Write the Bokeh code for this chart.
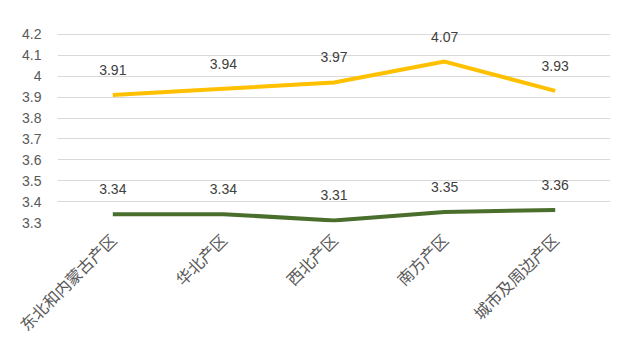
import math
from bokeh.plotting import figure
from bokeh.models import FactorRange, Range1d, FixedTicker, CustomJSTickFormatter, ColumnDataSource
from bokeh.core.properties import value
from bokeh.embed import file_html
from bokeh.resources import INLINE

categories = ["东北和内蒙古产区", "华北产区", "西北产区", "南方产区", "城市及周边产区"]
series_a = [3.91, 3.94, 3.97, 4.07, 3.93]
series_b = [3.34, 3.34, 3.31, 3.35, 3.36]
y_ticks = [3.3, 3.4, 3.5, 3.6, 3.7, 3.8, 3.9, 4.0, 4.1, 4.2]

p = figure(width=617, height=353, x_range=FactorRange(*categories, range_padding=0),
           y_range=Range1d(3.3, 4.3), output_backend="svg", toolbar_location=None,
           min_border_left=57, min_border_right=7, min_border_top=13, min_border_bottom=131)
p.outline_line_color = None
p.background_fill_color = "white"

src_a = ColumnDataSource(dict(x=categories, y=series_a, t=[f"{v:.2f}" for v in series_a]))
src_b = ColumnDataSource(dict(x=categories, y=series_b, t=[f"{v:.2f}" for v in series_b]))

p.line("x", "y", source=src_a, line_color="#FFC000", line_width=4)
p.line("x", "y", source=src_b, line_color="#4A6E2C", line_width=4)

for src in (src_a, src_b):
    p.text("x", "y", text="t", source=src, text_align="center", text_baseline="middle",
           y_offset=-25, text_font=value("Liberation Sans"), text_font_size="14px",
           text_color="#404040")

p.yaxis.ticker = FixedTicker(ticks=y_ticks)
p.yaxis.formatter = CustomJSTickFormatter(code="return Number(tick.toFixed(1)).toString();")
p.yaxis.axis_line_color = None
p.yaxis.major_tick_line_color = None
p.yaxis.minor_tick_line_color = None
p.yaxis.major_label_text_font = "Liberation Sans"
p.yaxis.major_label_text_font_size = "14px"
p.yaxis.major_label_text_color = "#595959"
p.yaxis.major_label_standoff = 10

p.xaxis.axis_line_color = None
p.xaxis.major_tick_line_color = None
p.xaxis.minor_tick_line_color = None
p.xaxis.major_label_orientation = math.pi / 4
p.xaxis.major_label_text_font = "Noto Sans CJK SC"
p.xaxis.major_label_text_font_size = "16px"
p.xaxis.major_label_text_color = "#595959"
p.xaxis.major_label_standoff = 8

p.xgrid.grid_line_color = None
p.ygrid.grid_line_color = "#D9D9D9"
p.ygrid.grid_line_width = 1

open("out.html", "w").write(file_html(p, INLINE))
